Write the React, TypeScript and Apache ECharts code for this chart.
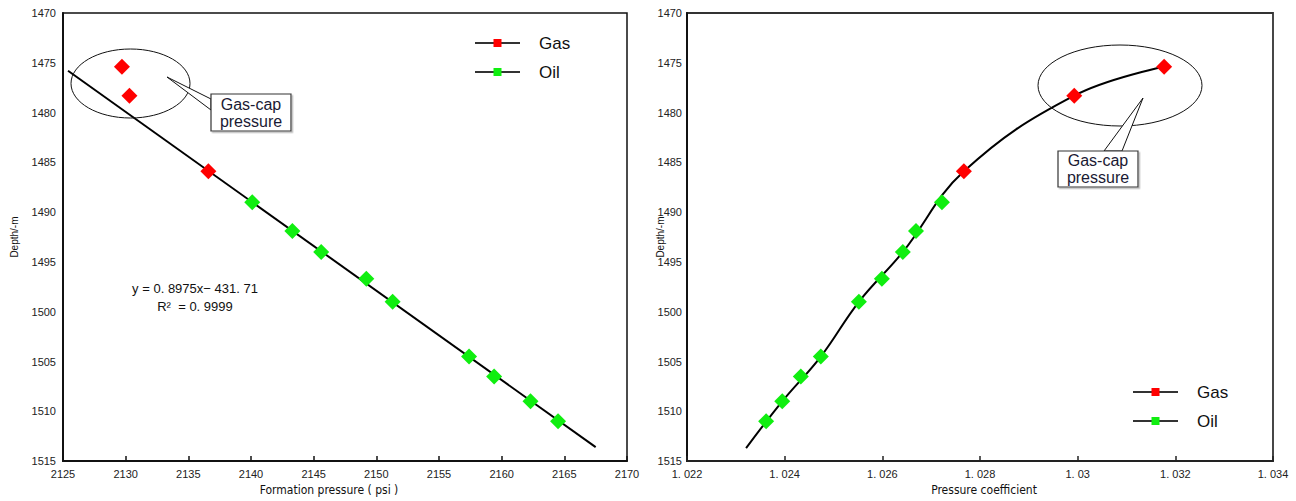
import React, { useEffect, useRef } from "react";
import * as echarts from "echarts";

// ---- data ----
const gasDepth = [1475.4, 1478.3, 1485.9];
const oilDepth = [1489.0, 1491.9, 1494.0, 1496.7, 1499.0, 1504.5, 1506.5, 1509.0, 1511.0];

const gasFormationPressure = [2129.7, 2130.3, 2136.6];
const oilFormationPressure = [2140.1, 2143.3, 2145.6, 2149.2, 2151.3, 2157.4, 2159.4, 2162.3, 2164.5];

const gasPressureCoef = [1.03177, 1.02993, 1.02767];
const oilPressureCoef = [1.02722, 1.02669, 1.02642, 1.02599, 1.02552, 1.02474, 1.02433, 1.02395, 1.02362];

// regression line end points (left chart)
const trendPressure = [2125.4, 2167.5];
const trendDepth = [1475.8, 1513.6];

// points (right chart), bottom to top
const curveCoef = [1.02321, 1.02395, 1.02474, 1.02552, 1.02642, 1.02767, 1.02993, 1.03177];
const curveDepth = [1513.7, 1509.0, 1504.5, 1499.0, 1494.0, 1485.9, 1478.3, 1475.4];

const depthTicks = ["1470", "1475", "1480", "1485", "1490", "1495", "1500", "1505", "1510", "1515"];
const pressureTicks = ["2125", "2130", "2135", "2140", "2145", "2150", "2155", "2160", "2165", "2170"];
const coefTicks = ["1. 022", "1. 024", "1. 026", "1. 028", "1. 03", "1. 032", "1. 034"];

const legendNames = ["Gas", "Oil"];
const equationLines = ["y = 0. 8975x\u2212 431. 71", "R\u00b2  = 0. 9999"];
const calloutLines = ["Gas-cap", "pressure"];

const GAS_COLOR = "#ff0000";
const OIL_COLOR = "#10ee10";
const FONT = "Arial, 'Liberation Sans', sans-serif";
const NARROW = "'Liberation Sans Narrow', 'DejaVu Sans Condensed', Arial, sans-serif";

export default function App() {
  const ref = useRef<HTMLDivElement>(null);

  useEffect(() => {
    if (!ref.current) return;
    const chart = echarts.init(ref.current, undefined, { renderer: "svg" });

    const zip = (a: number[], b: number[]) => a.map((v, i) => [v, b[i]]);

    const yAxisBase = (gridIndex: number, nameGap: number, margin: number) => ({
      type: "value",
      gridIndex,
      inverse: true,
      min: 1470,
      max: 1515,
      interval: 5,
      name: "Depth/-m",
      nameLocation: "middle",
      nameGap,
      nameMoveOverlap: false,
      nameTextStyle: { fontSize: 10, color: "#111", fontFamily: FONT },
      axisLine: { show: true, lineStyle: { color: "#111", width: 2 } },
      axisTick: { show: false },
      splitLine: { show: false },
      axisLabel: {
        fontSize: 11,
        color: "#222",
        fontFamily: FONT,
        margin,
        formatter: (_v: number, i: number) => depthTicks[i],
      },
    });

    const callout = (
      tip: number[],
      b1: number[],
      b2: number[],
      box: { x: number; y: number; w: number; h: number }
    ) => [
      {
        type: "polygon",
        z: 20,
        shape: { points: [tip, b1, b2] },
        style: { fill: "#fff", stroke: "#111", lineWidth: 1 },
      },
      {
        type: "rect",
        z: 21,
        shape: { x: box.x, y: box.y, width: box.w, height: box.h },
        style: {
          fill: "#fff",
          stroke: "#333",
          lineWidth: 1.2,
          shadowColor: "#bbb",
          shadowOffsetX: 1.5,
          shadowOffsetY: 1.5,
        },
      },
      {
        type: "text",
        z: 22,
        x: box.x + box.w / 2,
        y: box.y + box.h / 2,
        style: {
          text: calloutLines.join("\n"),
          fontSize: 16,
          lineHeight: 17,
          fill: "#1a1a33",
          fontFamily: FONT,
          align: "center",
          verticalAlign: "middle",
        },
      },
    ];

    const legendBase = (left: number, top: number) => ({
      data: legendNames,
      orient: "vertical",
      left,
      top,
      itemWidth: 45,
      itemHeight: 10,
      itemGap: 9,
      selectedMode: false,
      textStyle: {
        fontSize: 17,
        color: "#111",
        fontFamily: FONT,
        lineHeight: 20,
        padding: [0, 0, 0, 14],
      },
    });

    chart.setOption({
      animation: false,
      backgroundColor: "#fff",
      grid: [
        { left: 63, top: 13, width: 564, height: 456, show: true, borderColor: "#111", borderWidth: 1.5 },
        { left: 687, top: 13, width: 586, height: 455, show: true, borderColor: "#333", borderWidth: 1.8 },
      ],
      xAxis: [
        {
          type: "value",
          gridIndex: 0,
          min: 2125,
          max: 2170,
          interval: 5,
          name: "Formation pressure ( psi )",
          nameLocation: "middle",
          nameGap: 18,
          nameTextStyle: { fontSize: 12, color: "#111", fontFamily: NARROW, padding: [0, 32, 0, 0] },
          axisLine: { show: true, lineStyle: { color: "#111", width: 2 } },
          axisTick: { show: true, inside: true, length: 5, lineStyle: { color: "#111", width: 1.5 } },
          splitLine: { show: false },
          axisLabel: {
            fontSize: 11,
            color: "#222",
            fontFamily: FONT,
            margin: 7,
            formatter: (_v: number, i: number) => pressureTicks[i],
          },
        },
        {
          type: "value",
          gridIndex: 1,
          min: 1.022,
          max: 1.034,
          interval: 0.002,
          name: "Pressure coefficient",
          nameLocation: "middle",
          nameGap: 18,
          nameTextStyle: { fontSize: 12, color: "#111", fontFamily: NARROW, padding: [0, 0, 0, 8] },
          axisLine: { show: true, lineStyle: { color: "#222", width: 2 } },
          axisTick: { show: true, inside: true, length: 5, lineStyle: { color: "#222", width: 1.5 } },
          splitLine: { show: false },
          axisLabel: {
            fontSize: 11,
            color: "#222",
            fontFamily: FONT,
            margin: 7,
            formatter: (_v: number, i: number) => coefTicks[i],
          },
        },
      ],
      yAxis: [yAxisBase(0, 44, 7), yAxisBase(1, 22, 5)],
      legend: [legendBase(469, 28), legendBase(1127, 377)],
      series: [
        // legend-only series
        {
          name: "Gas",
          type: "line",
          xAxisIndex: 0,
          yAxisIndex: 0,
          data: [],
          symbol: "rect",
          itemStyle: { color: GAS_COLOR },
          lineStyle: { color: "#333", width: 1.5 },
        },
        {
          name: "Oil",
          type: "line",
          xAxisIndex: 0,
          yAxisIndex: 0,
          data: [],
          symbol: "rect",
          itemStyle: { color: OIL_COLOR },
          lineStyle: { color: "#333", width: 1.5 },
        },
        // left chart
        {
          name: "trend",
          type: "line",
          xAxisIndex: 0,
          yAxisIndex: 0,
          data: zip(trendPressure, trendDepth),
          symbol: "none",
          lineStyle: { color: "#000", width: 2 },
          z: 2,
        },
        {
          name: "gasLeft",
          type: "scatter",
          xAxisIndex: 0,
          yAxisIndex: 0,
          data: zip(gasFormationPressure, gasDepth),
          symbol: "diamond",
          symbolSize: 16,
          itemStyle: { color: GAS_COLOR, opacity: 1 },
          z: 3,
        },
        {
          name: "oilLeft",
          type: "scatter",
          xAxisIndex: 0,
          yAxisIndex: 0,
          data: zip(oilFormationPressure, oilDepth),
          symbol: "diamond",
          symbolSize: 16,
          itemStyle: { color: OIL_COLOR, opacity: 1 },
          z: 3,
        },
        // right chart
        {
          name: "curve",
          type: "line",
          xAxisIndex: 1,
          yAxisIndex: 1,
          data: zip(curveCoef, curveDepth),
          smooth: 0.4,
          symbol: "none",
          lineStyle: { color: "#000", width: 2 },
          z: 2,
        },
        {
          name: "gasRight",
          type: "scatter",
          xAxisIndex: 1,
          yAxisIndex: 1,
          data: zip(gasPressureCoef, gasDepth),
          symbol: "diamond",
          symbolSize: 16,
          itemStyle: { color: GAS_COLOR, opacity: 1 },
          z: 3,
        },
        {
          name: "oilRight",
          type: "scatter",
          xAxisIndex: 1,
          yAxisIndex: 1,
          data: zip(oilPressureCoef, oilDepth),
          symbol: "diamond",
          symbolSize: 16,
          itemStyle: { color: OIL_COLOR, opacity: 1 },
          z: 3,
        },
      ],
      graphic: [
        {
          type: "ellipse",
          z: 10,
          shape: { cx: 130.5, cy: 83.5, rx: 59.5, ry: 34.5 },
          style: { fill: "none", stroke: "#111", lineWidth: 1 },
        },
        {
          type: "ellipse",
          z: 10,
          shape: { cx: 1120, cy: 85.5, rx: 82, ry: 40.5 },
          style: { fill: "none", stroke: "#111", lineWidth: 1 },
        },
        ...callout([167, 77], [211, 99], [211, 110], { x: 211, y: 94, w: 80, h: 37 }),
        ...callout([1143, 98], [1104, 151], [1122, 151], { x: 1058, y: 151, w: 80, h: 36 }),
        {
          type: "text",
          z: 10,
          x: 195,
          y: 297,
          style: {
            text: equationLines.join("\n"),
            fontSize: 13,
            lineHeight: 18,
            fill: "#111",
            fontFamily: FONT,
            align: "center",
            verticalAlign: "middle",
          },
        },
      ],
    });

    return () => chart.dispose();
  }, []);

  return (
    <div
      ref={ref}
      style={{ position: "fixed", left: 0, top: 0, width: 1296, height: 501, background: "#fff" }}
    />
  );
}
